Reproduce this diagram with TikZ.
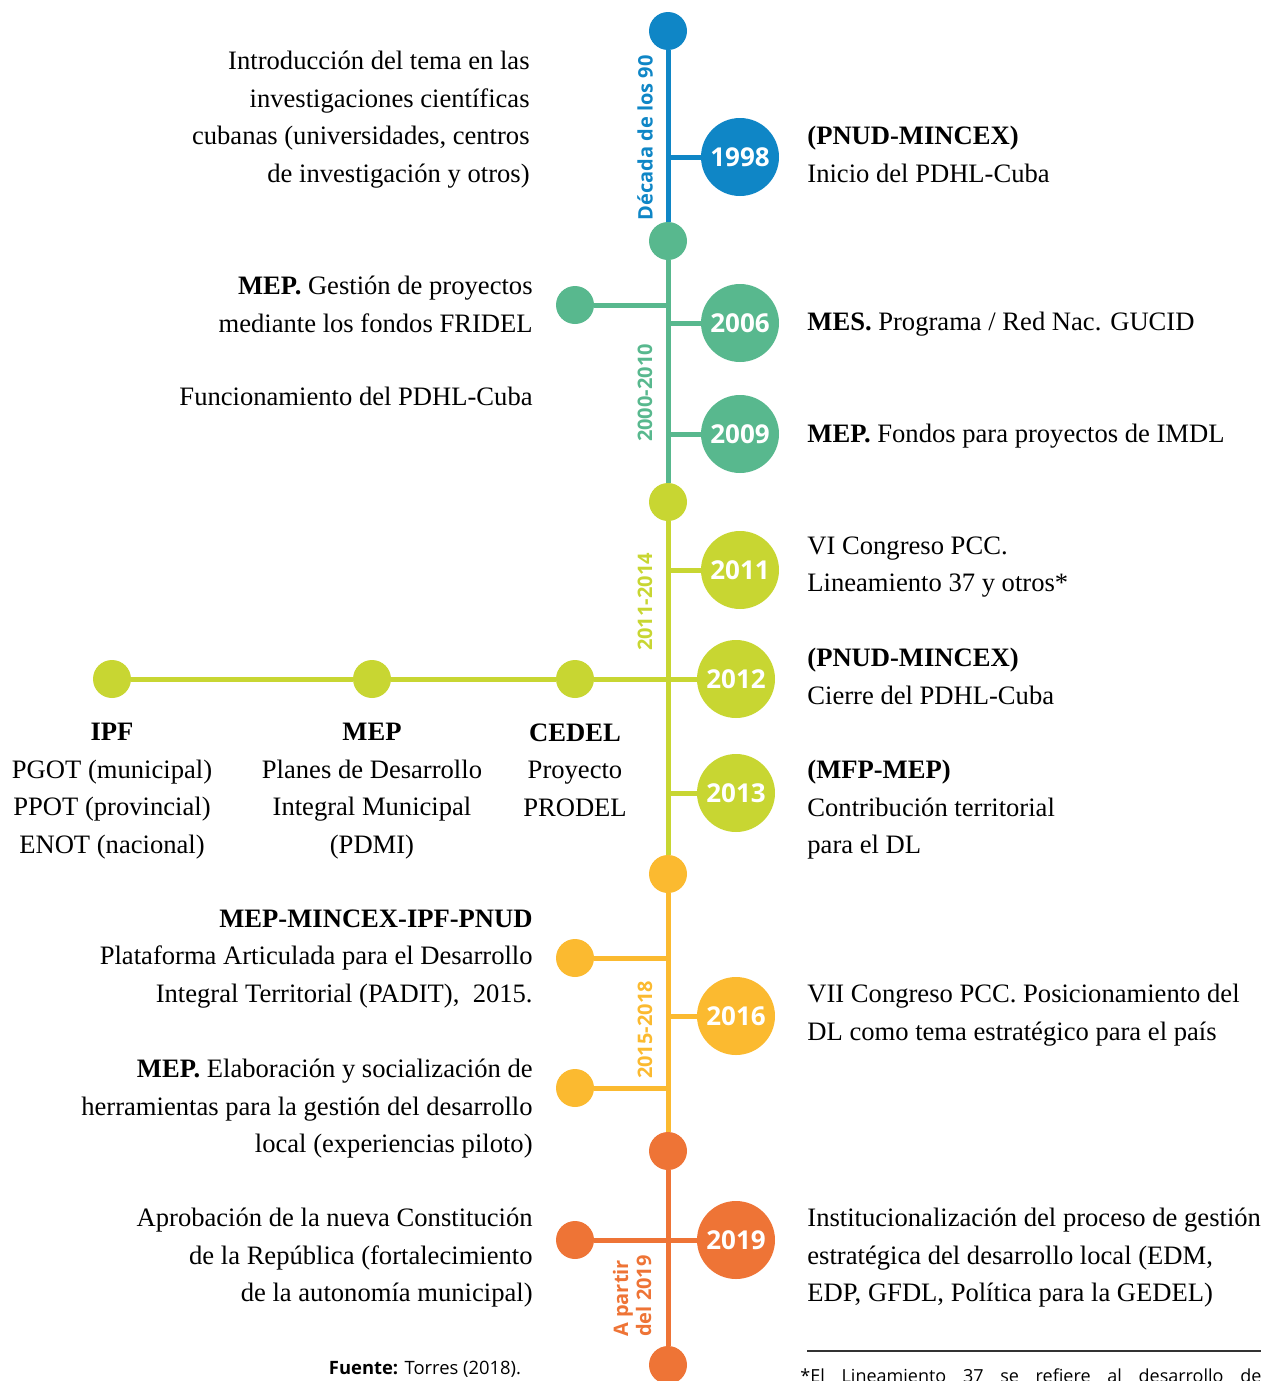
\documentclass[tikz,border=0pt]{standalone}
\usepackage{fontspec}
\setmainfont{Liberation Serif}
\newfontfamily\labelfont{Open Sans}
\usetikzlibrary{positioning}
\definecolor{c90}{HTML}{0F86C6}
\definecolor{c2000}{HTML}{58B88E}
\definecolor{c2011}{HTML}{C8D632}
\definecolor{c2015}{HTML}{FBBA30}
\definecolor{c2019}{HTML}{EE7436}
\tikzset{
  dot/.style={circle,fill=#1,minimum size=19pt,inner sep=0pt},
  year/.style={circle,fill=#1,minimum size=39pt,inner sep=0pt,text=white,
    font=\labelfont\bfseries\fontsize{13}{15}\selectfont},
  period/.style={rotate=90,text=#1,inner sep=0pt,
    font=\labelfont\bfseries\fontsize{10}{11.5}\selectfont},
  link/.style={draw=#1,line width=2.5pt},
  lefttxt/.style={anchor=north east,align=right,inner sep=0pt,
    font=\fontsize{13.3}{18.75}\selectfont},
  righttxt/.style={anchor=north west,align=left,inner sep=0pt,
    font=\fontsize{13.3}{18.75}\selectfont},
  undertxt/.style={anchor=north,align=center,inner sep=0pt,
    font=\fontsize{13.3}{18.75}\selectfont}
}
\begin{document}
\begin{tikzpicture}[x=0.5pt,y=-0.5pt]
  \useasboundingbox (0,0) rectangle (1261,1381);
  % spine
  \foreach \n/\py/\col in {d1/31/c90, d2/241/c2000, d3/502/c2011, d4/874/c2015, d5/1151/c2019, d6/1365/c2019}
    \node[dot=\col] (\n) at (668,\py) {};
  \draw[link=c90] (d1) -- (d2);
  \draw[link=c2000] (d2) -- (d3);
  \draw[link=c2011] (d3) -- (d4);
  \draw[link=c2015] (d4) -- (d5);
  \draw[link=c2019] (d5) -- (d6);
  % years
  \foreach \yr/\px/\py/\col in {1998/740/157/c90, 2006/740/323/c2000, 2009/740/434/c2000,
      2011/740/570/c2011, 2012/736/679/c2011, 2013/736/793/c2011, 2016/736/1016/c2015, 2019/736/1240/c2019}
  {
    \node[year=\col] (y\yr) at (\px,\py) {\yr};
    \coordinate (s\yr) at (668,\py);
    \draw[link=\col] (s\yr) -- (y\yr);
  }
  % left branches
  \foreach \n/\py/\col in {l1/305/c2000, l2/958/c2015, l3/1088/c2015, l4/1240/c2019}
  {
    \node[dot=\col] (\n) at (575,\py) {};
    \coordinate (s\n) at (668,\py);
    \draw[link=\col] (\n) -- (s\n);
  }
  \node[dot=c2011] (ipf) at (112,679) {};
  \node[dot=c2011] (mep) at (372,679) {};
  \node[dot=c2011] (cedel) at (575,679) {};
  \draw[link=c2011] (ipf) -- (mep) -- (cedel) -- (s2012);
  % periods
  \node[period=c90] at (645,138) {Década de los 90};
  \node[period=c2000] at (645,393) {2000-2010};
  \node[period=c2011] at (645,602) {2011-2014};
  \node[period=c2015] at (645,1030) {2015-2018};
  \node[period=c2019,align=left] at (632,1296) {A partir\\del 2019};
  % left texts
  \node[lefttxt] (t90) at (530,51) {Introducción del tema en las\\investigaciones científicas\\cubanas (universidades, centros\\de investigación y otros)};
  \node[lefttxt] (tfridel) at (533,276) {\textbf{MEP.} Gestión de proyectos\\mediante los fondos FRIDEL};
  \node[lefttxt] (tfunc) at (533,387) {Funcionamiento del PDHL-Cuba};
  \node[lefttxt] (tpadit) at (533,909) {\textbf{MEP-MINCEX-IPF-PNUD}\\Plataforma Articulada para el Desarrollo\\Integral Territorial (PADIT),~~2015.};
  \node[lefttxt] (tpiloto) at (533,1059) {\textbf{MEP.} Elaboración y socialización de\\herramientas para la gestión del desarrollo\\local (experiencias piloto)};
  \node[lefttxt] (tconst) at (533,1208) {Aprobación de la nueva Constitución\\de la República (fortalecimiento\\de la autonomía municipal)};
  % under 2012
  \node[undertxt] at (112,723) {\textbf{IPF}\\PGOT (municipal)\\PPOT (provincial)\\ENOT (nacional)};
  \node[undertxt] at (372,723) {\textbf{MEP}\\Planes de Desarrollo\\Integral Municipal\\(PDMI)};
  \node[undertxt] at (575,723) {\textbf{CEDEL}\\Proyecto\\PRODEL};
  % right texts
  \node[righttxt] (r1998) at (807,126) {\textbf{(PNUD-MINCEX)}\\Inicio del PDHL-Cuba};
  \node[righttxt] (r2006) at (807,312) {\textbf{MES.} Programa / Red Nac. GUCID};
  \node[righttxt] (r2009) at (807,424) {\textbf{MEP.} Fondos para proyectos de IMDL};
  \node[righttxt] (r2011) at (807,536) {VI Congreso PCC.\\Lineamiento 37 y otros*};
  \node[righttxt] (r2012) at (807,648) {\textbf{(PNUD-MINCEX)}\\Cierre del PDHL-Cuba};
  \node[righttxt] (r2013) at (807,760) {\textbf{(MFP-MEP)}\\Contribución territorial\\para el DL};
  \node[righttxt] (r2016) at (807,984) {VII Congreso PCC. Posicionamiento del\\DL como tema estratégico para el país};
  \node[righttxt] (r2019) at (807,1208) {Institucionalización del proceso de gestión\\estratégica del desarrollo local (EDM,\\EDP, GFDL, Política para la GEDEL)};
  % notes
  \node[font=\labelfont\fontsize{9.2}{11}\selectfont] (fuente) at (425,1369) {\textbf{Fuente:} Torres (2018).};
  \draw[line width=0.6pt,black!80] (807,1351) -- (1261,1351);
  \node[anchor=west,inner sep=0pt,font=\labelfont\fontsize{9}{11}\selectfont] (nota) at (800,1376)
    {\makebox[230.5pt][s]{*El Lineamiento 37 se refiere al desarrollo de}};
\end{tikzpicture}
\end{document}
